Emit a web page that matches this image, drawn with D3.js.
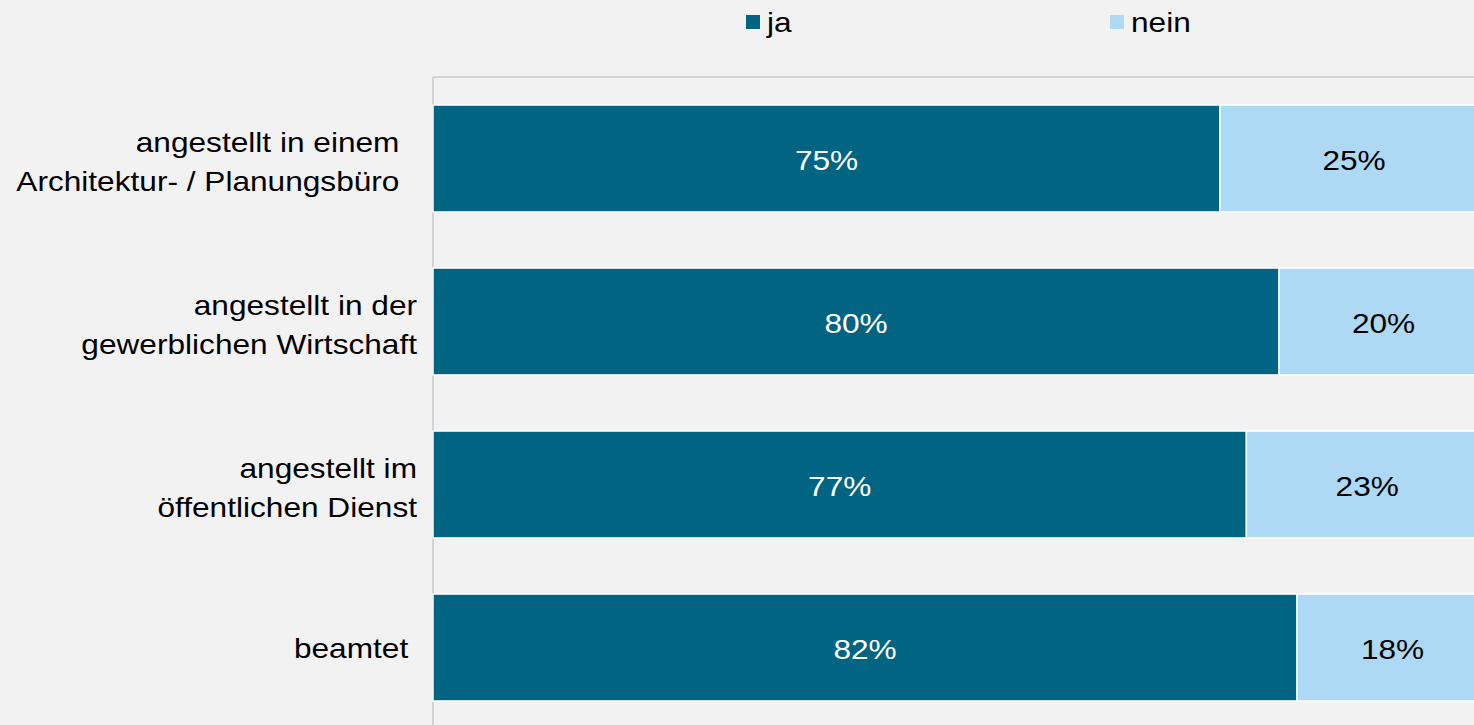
<!DOCTYPE html>
<html>
<head>
<meta charset="utf-8">
<script src="https://cdn.jsdelivr.net/npm/d3@7"></script>
<style>
  html, body { margin: 0; padding: 0; background: #f2f2f2; overflow: hidden; }
  svg { display: block; }
  text { font-family: "Liberation Sans", Arial, sans-serif; white-space: pre; }
</style>
</head>
<body>
<svg id="chart" width="1474" height="725"></svg>
<script>
// ---- data ----
const categories = [
  ["angestellt in einem  ", "Architektur- / Planungsbüro  "],
  ["angestellt in der", "gewerblichen Wirtschaft"],
  ["angestellt im", "öffentlichen Dienst"],
  ["beamtet "]
];
const seriesNames = ["ja", "nein"];
const jaValues = [74.6, 80.2, 77.1, 81.9];
const neinValues = [25.4, 19.8, 22.9, 18.1];
const jaLabels = ["75%", "80%", "77%", "82%"];
const neinLabels = ["25%", "20%", "23%", "18%"];
const colors = ["#006482", "#add9f4"];

// ---- layout ----
const W = 1474, H = 725;
const plotLeft = 433, plotRight = 1488, plotTop = 77, plotBottom = 729;
const fontSize = 28.5, sx = 1.11;

const svg = d3.select("#chart");
svg.append("rect").attr("width", W).attr("height", H).attr("fill", "#f2f2f2");

const x = d3.scaleLinear().domain([0, 100]).range([plotLeft, plotRight]);
const y = d3.scaleBand().domain(d3.range(categories.length))
  .range([plotTop, plotBottom]).paddingInner(0.344).paddingOuter(0.172);

// top border line & left axis
svg.append("line").attr("x1", plotLeft).attr("x2", W).attr("y1", plotTop).attr("y2", plotTop)
  .attr("stroke", "#c8c8c8").attr("stroke-width", 1.5);
svg.append("line").attr("x1", plotLeft).attr("x2", plotLeft).attr("y1", plotTop).attr("y2", H)
  .attr("stroke", "#c8c8c8").attr("stroke-width", 1.5);

// stacked data
const rows = categories.map((c, i) => ({ i, ja: jaValues[i], nein: neinValues[i] }));
const stack = d3.stack().keys(seriesNames)(rows);

const g = svg.append("g");
stack.forEach((layer, k) => {
  g.selectAll(null).data(layer).enter().append("rect")
    .attr("x", d => x(d[0]))
    .attr("y", d => y(d.data.i))
    .attr("width", d => x(d[1]) - x(d[0]))
    .attr("height", y.bandwidth())
    .attr("fill", colors[k])
    .attr("stroke", "#ffffff")
    .attr("stroke-width", 1.5);
});

// value labels
const labelSets = [jaLabels, neinLabels];
const labelColors = ["#ffffff", "#000000"];
stack.forEach((layer, k) => {
  g.selectAll(null).data(layer).enter().append("text")
    .attr("transform", d => `translate(${(x(d[0]) + x(d[1])) / 2},${y(d.data.i) + y.bandwidth() / 2 + 11}) scale(${sx},1)`)
    .attr("text-anchor", "middle")
    .attr("font-size", fontSize)
    .attr("fill", labelColors[k])
    .text(d => labelSets[k][d.data.i]);
});

// category labels
const lineGap = 39;
categories.forEach((lines, i) => {
  const cy = y(i) + y.bandwidth() / 2;
  const n = lines.length;
  lines.forEach((ln, j) => {
    const by = cy + 10 + (j - (n - 1) / 2) * lineGap + (n > 1 ? 3 : 0);
    svg.append("text")
      .attr("transform", `translate(417,${by}) scale(${sx},1)`)
      .attr("text-anchor", "end")
      .attr("font-size", fontSize)
      .attr("fill", "#000")
      .text(ln);
  });
});

// legend
const legendX = [746, 1110];
seriesNames.forEach((s, k) => {
  svg.append("rect").attr("x", legendX[k]).attr("y", 15).attr("width", 14).attr("height", 14)
    .attr("fill", colors[k]);
  svg.append("text")
    .attr("transform", `translate(${legendX[k] + 21},32) scale(${sx},1)`)
    .attr("font-size", fontSize)
    .attr("fill", "#000")
    .text(s);
});
</script>
</body>
</html>
